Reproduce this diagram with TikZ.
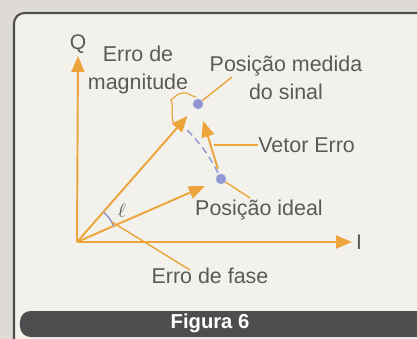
\documentclass[tikz,border=0pt]{standalone}
\usepackage{fontspec}
\setmainfont{Liberation Sans}
\usepackage{tikz}
\usetikzlibrary{arrows.meta}
\definecolor{figorange}{HTML}{EBA53C}
\definecolor{figblue}{HTML}{8E93D2}
\definecolor{figdash}{HTML}{95A3D6}
\definecolor{figpaper}{HTML}{F3F1EC}
\definecolor{figback}{HTML}{DEDBD6}
\definecolor{figdark}{HTML}{4E4E50}
\definecolor{figtext}{HTML}{5A5A5A}
\tikzset{
  vec/.style={draw=figorange, line width=1.1pt, -{Triangle[length=3.2mm,width=2.6mm]}},
  axis/.style={draw=figorange, line width=1.1pt, -{Triangle[length=3.2mm,width=2.6mm]}},
  lead/.style={draw=figorange, line width=0.8pt},
  lbl/.style={text=figtext, font=\fontsize{12.2}{16}\selectfont, inner sep=0pt, align=center},
  dot/.style={circle, fill=figblue, draw=figblue!70!white, inner sep=0pt, minimum size=2mm}
}

\begin{document}
\begin{tikzpicture}[x=0.02cm, y=-0.02cm]
    \useasboundingbox (0,0) rectangle (417,339);
    \fill[figback] (0,0) rectangle (417,339);
    \draw[figdark, line width=1.2pt, fill=figpaper, rounded corners=6pt]
      (14,13) rectangle (440,360);

    % axes
    \coordinate (O) at (77,242);
    \node[lbl, font=\fontsize{12}{14}\selectfont] (Q) at (78,44) {Q};
    \node[lbl, font=\rmfamily\fontsize{12}{14}\selectfont] (I) at (359,242) {I};
    \draw[axis] (O) -- (Q.south |- 0,56);
    \draw[axis] (O) -- (352,242);

    % points
    \node[dot] (meas) at (198,104) {};
    \node[dot] (ideal) at (221,179) {};
    \draw[figdash, line width=0.9pt, dash pattern=on 4pt off 2.5pt]
      (O) ++(-22:157) arc[start angle=-22, end angle=-51, radius=157];

    % vectors
    \draw[vec, shorten >=6pt] (O) -- (meas);
    \draw[vec, shorten >=7pt] (O) -- (ideal);
    \draw[vec, shorten <=3pt, shorten >=7pt] (ideal) -- (meas);

    % phase angle
    \draw[figblue, line width=0.8pt] (O) ++(-23.6:40) arc[start angle=-23.6, end angle=-49, radius=40];
    \node[lbl, font=\fontsize{11}{14}\selectfont] (ell) at (122,211) {$\ell$};

    % magnitude brace
    \draw[figorange, line width=0.7pt]
      (174,124) .. controls (170,115) and (174,106) .. (171,100)
      .. controls (175,97) and (178,93) .. (183,93)
      .. controls (188,92) and (190,96) .. (196,97);

    % labels
    \node[lbl] (mag) at (138,70) {Erro de\\magnitude};
    \node[lbl] (medida) at (286,78) {Posição medida\\do sinal};
    \node[lbl, anchor=west] (vetor) at (258,145) {Vetor Erro};
    \node[lbl] (pideal) at (259,210) {Posição ideal};
    \node[lbl] (fase) at (210,276) {Erro de fase};

    % leader lines
    \coordinate (medEnd) at (232,77);
    \coordinate (vetA) at (214,145);
    \coordinate (fasA) at (112,222);
    \draw[lead] (meas) -- (medEnd);
    \draw[lead] (vetA) -- (vetor.west);
    \draw[lead] (ideal) -- (250,198);
    \draw[lead] (fasA) -- (190,270);

    % caption bar
    \fill[figdark, rounded corners=6pt] (20,311) rectangle (430,337);
    \node[text=white, font=\bfseries\fontsize{11.5}{13}\selectfont] (cap) at (210,323) {Figura 6};
\end{tikzpicture}
\end{document}
